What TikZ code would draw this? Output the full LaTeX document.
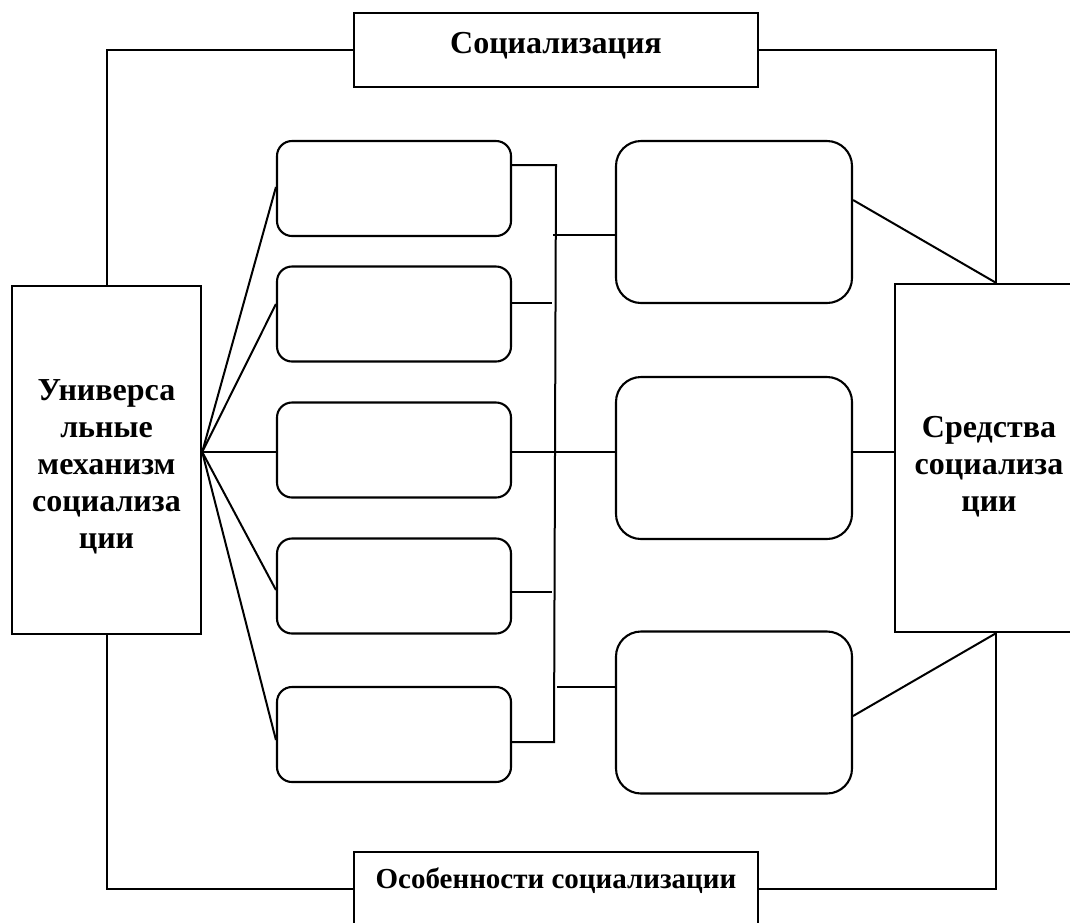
\documentclass[tikz,border=0pt]{standalone}
\usepackage{fontspec}
\setmainfont{Liberation Serif}
\usetikzlibrary{calc}

\tikzset{
  okvir/.style={draw, line width=2.4pt, inner sep=0pt},
  skatla/.style={draw, line width=2.1pt, rounded corners=15pt, minimum width=234pt, minimum height=95pt},
  velika/.style={draw, line width=2.1pt, rounded corners=25pt, minimum width=236pt, minimum height=162pt},
  crta/.style={line width=2pt}
}

\begin{document}
\begin{tikzpicture}[x=1pt, y=-1pt, font=\bfseries\fontsize{32}{37}\selectfont]
\useasboundingbox (0,0) rectangle (1070,922);
\clip (0,0) rectangle (1070,922);

% glavni okvirji
\node[okvir, minimum width=404pt, minimum height=74pt, text height=22pt, text depth=16pt] (soc) at (556,50) {Социализация};
\node[okvir, minimum width=404pt, minimum height=74pt, text height=20pt, text depth=22pt,
  font=\bfseries\fontsize{29}{34}\selectfont] (oso) at (556,889) {Особенности социализации};
\node[okvir, minimum width=189pt, minimum height=348pt] (uni) at (106.5,460) {};
\node[okvir, minimum width=188pt, minimum height=348pt] (sre) at (989,458) {};
\node[align=center] (uni_t) at ([yshift=-7pt]uni.center)
  {Универса\\льные\\механизм\\социализа\\ции};
\node[align=center] (sre_t) at ([yshift=-9pt]sre.center)
  {Средства\\социализа\\ции};

% prazne skatle
\def\mvis{{188.5,314,450,586,734.5}}
\foreach \i in {0,...,4} {
  \pgfmathsetmacro{\yy}{\mvis[\i]};
  \node[skatla] (m_\i) at (394,\yy) {};
}
\def\svis{{222,458,712.5}}
\foreach \i in {0,...,2} {
  \pgfmathsetmacro{\yy}{\svis[\i]};
  \node[velika] (s_\i) at (734,\yy) {};
}

% okvir okoli
\coordinate (z_top) at ([xshift=7pt]sre.north);
\coordinate (z_bot) at ([xshift=7pt]sre.south);
\draw[crta] (soc.west) -| (uni.north);
\draw[crta] (oso.west) -| (uni.south);
\draw[crta] (soc.east) -| (z_top);
\draw[crta] (oso.east) -| (z_bot);

% pahljaca
\coordinate (f) at ([yshift=8pt]uni.east);
\foreach \i/\s in {0/1.5,1/10,2/-2,3/-4,4/-5.5} {
  \draw[crta] (f) -- ([yshift=\s pt]m_\i.west);
}

% navpicna crta
\coordinate (v_top) at (556,165);
\coordinate (v_bot) at (554,742);
\coordinate (k_1) at (552,303);
\coordinate (k_3) at (552,592);
\coordinate (p_0) at (553,235);
\coordinate (p_2) at (557,687);
\draw[crta] (m_0.east |- v_top) -- (v_top) -- (v_bot) -- (m_4.east |- v_bot);
\draw[crta] (m_1.east |- k_1) -- (k_1);
\draw[crta] (m_3.east |- k_3) -- (k_3);
\draw[crta] (p_0) -- (s_0.west |- p_0);
\draw[crta] (p_2) -- (s_2.west |- p_2);
\draw[crta] (m_2.east |- f) -- (s_1.west |- f);
\draw[crta] (s_1.east |- f) -- (sre.west |- f);

% desno
\draw[crta] ([yshift=22pt]s_0.east) -- (z_top);
\draw[crta] ([yshift=-3.5pt]s_2.east) -- (z_bot);
\end{tikzpicture}
\end{document}
